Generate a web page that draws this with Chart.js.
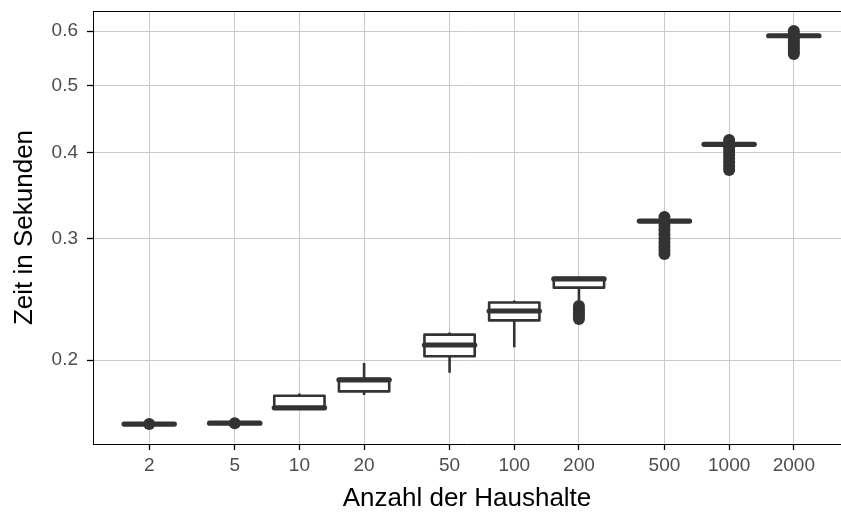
<!DOCTYPE html>
<html lang="de">
<head>
<meta charset="utf-8">
<title>Zeit in Sekunden nach Anzahl der Haushalte</title>
<script src="https://cdn.jsdelivr.net/npm/chart.js@4.4.1/dist/chart.umd.min.js"></script>
<style>
    html, body { margin: 0; padding: 0; background: #ffffff; }
    #contenedor { width: 841px; height: 514px; }
</style>
</head>
<body>
<div id="contenedor"><canvas id="grafico" width="841" height="514"></canvas></div>
<script>
// --- DATOS ---
const haushalte = [2, 5, 10, 20, 50, 100, 200, 500, 1000, 2000];
const bigoteInferior = [0.1613, 0.1618, 0.1700, 0.1780, 0.1917, 0.2087, 0.2440, 0.3177, 0.4106, 0.5902];
const cuartil1       = [0.1613, 0.1618, 0.1701, 0.1801, 0.2025, 0.2283, 0.2547, 0.3177, 0.4106, 0.5902];
const mediana        = [0.1615, 0.1620, 0.1705, 0.1872, 0.2103, 0.2356, 0.2622, 0.3181, 0.4110, 0.5906];
const cuartil3       = [0.1617, 0.1622, 0.1775, 0.1877, 0.2177, 0.2424, 0.2630, 0.3185, 0.4114, 0.5910];
const bigoteSuperior = [0.1617, 0.1622, 0.1788, 0.1980, 0.2193, 0.2440, 0.2630, 0.3185, 0.4114, 0.5910];
const atipicos = [
    [0.1615],
    [0.1620],
    [],
    [],
    [],
    [],
    [0.2395, 0.2370, 0.2345, 0.2320, 0.2293],
    [0.3224, 0.3180, 0.3135, 0.3090, 0.3045, 0.3000, 0.2960, 0.2920, 0.2885, 0.2849],
    [0.4169, 0.4120, 0.4070, 0.4020, 0.3970, 0.3920, 0.3870, 0.3820, 0.3772],
    [0.6001, 0.5950, 0.5900, 0.5850, 0.5800, 0.5750, 0.5700, 0.5650, 0.5600, 0.5556]
];
const ticksX = [2, 5, 10, 20, 50, 100, 200, 500, 1000, 2000];
const ticksY = [0.2, 0.3, 0.4, 0.5, 0.6];

// --- ESTILO ---
const colorCaja = '#333333';
const colorRejilla = '#cacaca';
const fuente = "'Liberation Sans', Arial, Helvetica, sans-serif";
const anchoCajaDecadas = 0.117;   // media anchura de la caja en escala log10

// puntos atípicos como dataset de dispersión
const puntosAtipicos = [];
atipicos.forEach((lista, i) => {
    lista.forEach(v => puntosAtipicos.push({ x: haushalte[i], y: v }));
});

// quita el relleno que Chart.js reserva para las etiquetas de los extremos
function ajustarEje(s, ancho, alto) {
    if (ancho) s.width = ancho;
    if (alto) s.height = alto;
    s.paddingTop = 0;
    s.paddingBottom = 0;
    s.paddingLeft = 0;
    s.paddingRight = 0;
}

// --- PLUGIN: cajas y bigotes dibujados con las escalas del gráfico ---
const pluginCajas = {
    id: 'cajas',
    afterDatasetsDraw(chart) {
        const { ctx, scales: { x, y } } = chart;
        const factor = Math.pow(10, anchoCajaDecadas);
        ctx.save();
        ctx.strokeStyle = colorCaja;
        haushalte.forEach((n, i) => {
            const xc = x.getPixelForValue(n);
            const xl = x.getPixelForValue(n / factor);
            const xr = x.getPixelForValue(n * factor);
            const yQ1 = y.getPixelForValue(cuartil1[i]);
            const yQ3 = y.getPixelForValue(cuartil3[i]);
            const yMed = y.getPixelForValue(mediana[i]);
            const yLo = y.getPixelForValue(bigoteInferior[i]);
            const yHi = y.getPixelForValue(bigoteSuperior[i]);

            // bigotes
            ctx.lineWidth = 2.6;
            ctx.lineCap = 'butt';
            ctx.beginPath();
            ctx.moveTo(xc, yQ3); ctx.lineTo(xc, yHi);
            ctx.moveTo(xc, yQ1); ctx.lineTo(xc, yLo);
            ctx.stroke();

            // caja
            ctx.lineJoin = 'round';
            ctx.fillStyle = '#ffffff';
            ctx.fillRect(xl, yQ3, xr - xl, yQ1 - yQ3);
            ctx.strokeRect(xl, yQ3, xr - xl, yQ1 - yQ3);

            // mediana
            ctx.lineWidth = 5.2;
            ctx.lineCap = 'round';
            ctx.beginPath();
            ctx.moveTo(xl, yMed); ctx.lineTo(xr, yMed);
            ctx.stroke();
        });
        ctx.restore();
    },
    afterDraw(chart) {
        // borde superior del panel
        const { ctx, chartArea } = chart;
        ctx.save();
        ctx.strokeStyle = '#000000';
        ctx.lineWidth = 1;
        ctx.beginPath();
        ctx.moveTo(chartArea.left, chartArea.top + 0.5);
        ctx.lineTo(chartArea.right, chartArea.top + 0.5);
        ctx.stroke();
        ctx.restore();
    }
};

// --- GRÁFICO ---
const ctx = document.getElementById('grafico').getContext('2d');
new Chart(ctx, {
    type: 'scatter',
    data: {
        datasets: [{
            label: 'Ausreißer',
            data: puntosAtipicos,
            backgroundColor: colorCaja,
            borderWidth: 0,
            pointRadius: 6,
            pointHoverRadius: 6
        }]
    },
    options: {
        responsive: false,
        animation: false,
        devicePixelRatio: 1,
        layout: { autoPadding: false, padding: { top: 11, right: 0, left: 0, bottom: 0 } },
        plugins: {
            legend: { display: false },
            tooltip: { enabled: false }
        },
        scales: {
            x: {
                type: 'logarithmic',
                bounds: 'data',
                min: 1.095,
                max: 3316,
                afterFit: s => ajustarEje(s, 0, 70),
                afterBuildTicks: s => { s.ticks = ticksX.map(v => ({ value: v })); },
                grid: { color: colorRejilla, lineWidth: 1, tickColor: '#000000', tickLength: 6, tickWidth: 1.3 },
                border: { display: true, color: '#000000', width: 1 },
                ticks: {
                    autoSkip: false,
                    maxRotation: 0,
                    padding: 4,
                    color: '#4d4d4d',
                    font: { family: fuente, size: 19 },
                    callback: v => String(v)
                },
                title: {
                    display: true,
                    text: 'Anzahl der Haushalte',
                    color: '#000000',
                    font: { family: fuente, size: 26 },
                    padding: { top: 0, bottom: 0 }
                }
            },
            y: {
                type: 'logarithmic',
                bounds: 'data',
                min: 0.1511,
                max: 0.6415,
                afterFit: s => ajustarEje(s, 93, 0),
                afterBuildTicks: s => { s.ticks = ticksY.map(v => ({ value: v })); },
                grid: { color: colorRejilla, lineWidth: 1, tickColor: '#000000', tickLength: 6, tickWidth: 1.3 },
                border: { display: true, color: '#000000', width: 1 },
                ticks: {
                    autoSkip: false,
                    padding: 9,
                    color: '#4d4d4d',
                    font: { family: fuente, size: 19 },
                    callback: v => v.toFixed(1)
                },
                title: {
                    display: true,
                    text: 'Zeit in Sekunden',
                    color: '#000000',
                    font: { family: fuente, size: 26 },
                    padding: { top: 9, bottom: 0 }
                }
            }
        }
    },
    plugins: [pluginCajas]
});
</script>
</body>
</html>
